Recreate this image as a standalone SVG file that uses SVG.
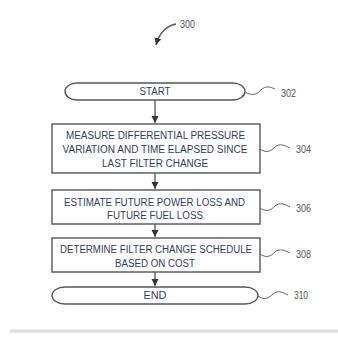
<svg xmlns="http://www.w3.org/2000/svg" width="338" height="340" viewBox="0 0 338 340">
<style>
.box{fill:#fff;stroke:#555;stroke-width:1.4}
.t{font-family:"Liberation Sans",Arial,sans-serif;font-size:10px;fill:#33405c;text-anchor:middle;dominant-baseline:central}
.lbl{font-family:"Liberation Sans",Arial,sans-serif;font-size:10px;fill:#555;dominant-baseline:central}
.c{fill:none;stroke:#555;stroke-width:1.3}
.sq{fill:none;stroke:#666;stroke-width:1}
</style>
<defs>
<marker id="ah" markerWidth="8" markerHeight="8" refX="7" refY="4" orient="auto" markerUnits="userSpaceOnUse">
<path d="M0,0.5 L7,4 L0,7.5 Z" fill="#333"/>
</marker>
</defs>
<rect width="338" height="340" fill="#fff"/>
<g id="ref300">
<path class="c" d="M176,24 C166,26 159,34 156,45" marker-end="url(#ah)"/>
<text class="lbl" x="180" y="24" textLength="15" lengthAdjust="spacingAndGlyphs">300</text>
</g>
<g id="connectors">
<line class="c" x1="155" y1="100" x2="155" y2="123" marker-end="url(#ah)"/>
<line class="c" x1="155" y1="173" x2="155" y2="189" marker-end="url(#ah)"/>
<line class="c" x1="155" y1="224" x2="155" y2="237" marker-end="url(#ah)"/>
<line class="c" x1="155" y1="272" x2="155" y2="286" marker-end="url(#ah)"/>
</g>
<g id="n302">
<rect class="box" x="65" y="83" width="180" height="17" rx="12" ry="8.5"/>
<text class="t" x="155" y="91.5" textLength="31" lengthAdjust="spacingAndGlyphs">START</text>
<path class="sq" d="M245,92 C252,96 256,95 261,90 C266,85 270,87 275,89"/>
<text class="lbl" x="281" y="93" textLength="15" lengthAdjust="spacingAndGlyphs">302</text>
</g>
<g id="n304">
<rect class="box" x="52" y="124" width="208" height="49"/>
<text class="t" x="155.5" y="135" textLength="179" lengthAdjust="spacingAndGlyphs">MEASURE DIFFERENTIAL PRESSURE</text>
<text class="t" x="155" y="149" textLength="185" lengthAdjust="spacingAndGlyphs">VARIATION AND TIME ELAPSED SINCE</text>
<text class="t" x="155" y="163" textLength="106" lengthAdjust="spacingAndGlyphs">LAST FILTER CHANGE</text>
<path class="sq" d="M260,149 C266,153 270,152 275,147 C280,143 284,145 290,148"/>
<text class="lbl" x="296" y="149" textLength="15" lengthAdjust="spacingAndGlyphs">304</text>
</g>
<g id="n306">
<rect class="box" x="52" y="190" width="208" height="34"/>
<text class="t" x="154.5" y="202" textLength="181" lengthAdjust="spacingAndGlyphs">ESTIMATE FUTURE POWER LOSS AND</text>
<text class="t" x="155" y="215" textLength="96" lengthAdjust="spacingAndGlyphs">FUTURE FUEL LOSS</text>
<path class="sq" d="M260,208 C266,212 270,211 275,206 C280,202 284,204 290,207"/>
<text class="lbl" x="296" y="208" textLength="15" lengthAdjust="spacingAndGlyphs">306</text>
</g>
<g id="n308">
<rect class="box" x="52" y="238" width="208" height="34"/>
<text class="t" x="156" y="249" textLength="192" lengthAdjust="spacingAndGlyphs">DETERMINE FILTER CHANGE SCHEDULE</text>
<text class="t" x="155" y="263" textLength="80" lengthAdjust="spacingAndGlyphs">BASED ON COST</text>
<path class="sq" d="M260,254 C266,258 270,257 275,252 C280,248 284,250 290,253"/>
<text class="lbl" x="296" y="254" textLength="15" lengthAdjust="spacingAndGlyphs">308</text>
</g>
<g id="n310">
<rect class="box" x="52" y="287" width="206" height="17" rx="13" ry="8.5"/>
<text class="t" x="155" y="295.5" textLength="23" lengthAdjust="spacingAndGlyphs">END</text>
<path class="sq" d="M258,296 C264,300 268,299 273,294 C278,290 282,292 288,295"/>
<text class="lbl" x="294" y="295" textLength="14" lengthAdjust="spacingAndGlyphs">310</text>
</g>
<line x1="10" y1="331" x2="338" y2="331" stroke="#ddd" stroke-width="3"/>
</svg>
